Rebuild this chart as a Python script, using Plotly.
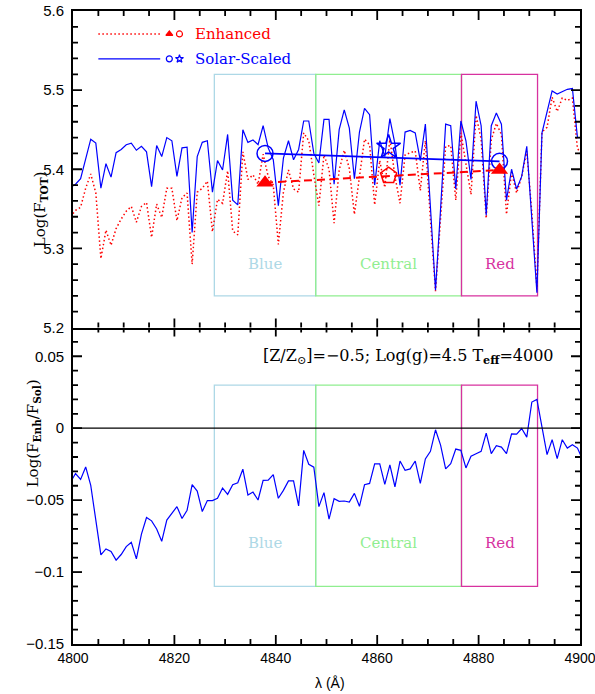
import numpy as np
import plotly.graph_objects as go

# Spectra sampled every 1 Å (one extra point beyond each edge of the window)
wavelength = np.arange(4799.5, 4901.0, 1.0)

# log total flux, solar-scaled model
solar = [5.377, 5.381, 5.388, 5.412, 5.438, 5.433, 5.376, 5.407, 5.390, 5.421,
         5.425, 5.431, 5.433, 5.424, 5.429, 5.422, 5.378, 5.430, 5.416, 5.440,
         5.436, 5.391, 5.427, 5.428, 5.320, 5.416, 5.434, 5.436, 5.371, 5.411,
         5.399, 5.444, 5.361, 5.355, 5.450, 5.434, 5.437, 5.431, 5.455, 5.427,
         5.412, 5.354, 5.414, 5.436, 5.412, 5.425, 5.461, 5.461, 5.420, 5.408,
         5.463, 5.463, 5.381, 5.450, 5.475, 5.452, 5.388, 5.447, 5.477, 5.469,
         5.380, 5.436, 5.416, 5.464, 5.432, 5.380, 5.447, 5.449, 5.446, 5.411,
         5.457, 5.352, 5.247, 5.350, 5.457, 5.455, 5.375, 5.461, 5.436, 5.387,
         5.486, 5.455, 5.342, 5.455, 5.471, 5.457, 5.361, 5.400, 5.375, 5.391,
         5.429, 5.337, 5.244, 5.446, 5.471, 5.499, 5.495, 5.498, 5.501, 5.502,
         5.440, 5.440]

# log total flux, alpha-enhanced model
enhanced = [5.340, 5.348, 5.352, 5.376, 5.394, 5.370, 5.287, 5.323, 5.304, 5.325,
            5.337, 5.347, 5.353, 5.333, 5.353, 5.358, 5.314, 5.356, 5.339, 5.376,
            5.376, 5.335, 5.364, 5.370, 5.280, 5.371, 5.376, 5.385, 5.321, 5.362,
            5.357, 5.398, 5.322, 5.317, 5.422, 5.387, 5.393, 5.381, 5.419, 5.391,
            5.380, 5.305, 5.371, 5.399, 5.375, 5.371, 5.446, 5.436, 5.393, 5.354,
            5.418, 5.400, 5.332, 5.399, 5.424, 5.401, 5.343, 5.393, 5.438, 5.431,
            5.355, 5.411, 5.377, 5.438, 5.391, 5.357, 5.418, 5.421, 5.423, 5.373,
            5.436, 5.336, 5.246, 5.338, 5.429, 5.430, 5.361, 5.446, 5.408, 5.368,
            5.468, 5.438, 5.338, 5.437, 5.458, 5.444, 5.343, 5.396, 5.370, 5.391,
            5.423, 5.345, 5.250, 5.447, 5.453, 5.491, 5.473, 5.490, 5.487, 5.490,
            5.426, 5.418]

# log(F_Enh / F_Sol)
log_ratio = [-0.0375, -0.0315, -0.0356, -0.0269, -0.0398, -0.0632, -0.0880, -0.0839, -0.0857, -0.0917,
             -0.0878, -0.0823, -0.0793, -0.0908, -0.0736, -0.0621, -0.0644, -0.0701, -0.0786, -0.0639,
             -0.0593, -0.0545, -0.0628, -0.0570, -0.0393, -0.0437, -0.0579, -0.0503, -0.0503, -0.0487,
             -0.0416, -0.0460, -0.0393, -0.0379, -0.0285, -0.0464, -0.0444, -0.0499, -0.0363, -0.0361,
             -0.0322, -0.0487, -0.0432, -0.0366, -0.0366, -0.0540, -0.0154, -0.0251, -0.0271, -0.0545,
             -0.0448, -0.0632, -0.0490, -0.0508, -0.0506, -0.0513, -0.0453, -0.0543, -0.0393, -0.0384,
             -0.0248, -0.0248, -0.0391, -0.0255, -0.0407, -0.0228, -0.0292, -0.0283, -0.0228, -0.0384,
             -0.0214, -0.0161, -0.0011, -0.0117, -0.0283, -0.0246, -0.0145, -0.0154, -0.0276, -0.0195,
             -0.0177, -0.0161, -0.0034, -0.0177, -0.0122, -0.0131, -0.0177, -0.0039, -0.0041, -0.0002,
             -0.0062, 0.0182, 0.0200, 0.0007, -0.0184, -0.0080, -0.0211, -0.0080, -0.0138, -0.0115,
             -0.0138, -0.0218]

# Lick H-beta bandpasses
band_names = ["Blue", "Central", "Red"]
band_lo = [4827.875, 4847.875, 4876.625]
band_hi = [4847.875, 4876.625, 4891.625]
band_colors = ["#add8e6", "#90ee90", "#d7329f"]

# pseudo-continuum points (centres of the side bands) and central-band values
cont_wave = [4837.875, 4884.125]
cont_solar = [5.420, 5.410]
cont_enhanced = [5.383, 5.399]
central_wave = [4862.25]
central_solar = [5.428]
central_enhanced = [5.392]

# axis tick labels
x_tickvals = [4800, 4820, 4840, 4860, 4880, 4900]
top_tickvals = [5.2, 5.3, 5.4, 5.5, 5.6]
bottom_tickvals = [-0.15, -0.1, -0.05, 0, 0.05]

X_RANGE = (4800, 4900)
TOP_RANGE = (5.2, 5.6)
BOTTOM_RANGE = (-0.15, 0.07)

SERIF = "DejaVu Serif"
SANS = "Liberation Sans"
RED = "#ff0000"
BLUE = "#0000ff"

W, H = 595, 694
M_L, M_R, M_T, M_B = 73, 15, 11, 50
PLOT_W = W - M_L - M_R
PANEL_H = (H - M_T - M_B) / 2
MAJOR_LEN, MINOR_LEN = 9, 5   # tick lengths in pixels
TICK_STYLE = dict(color="black", width=1.8)

fig = go.Figure()

# ---- upper panel: fluxes ----
fig.add_trace(go.Scatter(x=wavelength, y=enhanced, mode="lines",
                         line=dict(color=RED, width=1.5, dash="1.5px,2.5px"),
                         xaxis="x2", yaxis="y2", showlegend=False))
fig.add_trace(go.Scatter(x=wavelength, y=solar, mode="lines",
                         line=dict(color=BLUE, width=1.2),
                         xaxis="x2", yaxis="y2", showlegend=False))
fig.add_trace(go.Scatter(x=cont_wave, y=cont_enhanced, mode="lines",
                         line=dict(color=RED, width=2, dash="8px,5px"),
                         xaxis="x2", yaxis="y2", showlegend=False))
fig.add_trace(go.Scatter(x=cont_wave, y=cont_solar, mode="lines",
                         line=dict(color=BLUE, width=1.8),
                         xaxis="x2", yaxis="y2", showlegend=False))
fig.add_trace(go.Scatter(x=cont_wave, y=cont_solar, mode="markers",
                         marker=dict(symbol="circle-open", size=16, color=BLUE,
                                     line=dict(width=1.5, color=BLUE)),
                         xaxis="x2", yaxis="y2", showlegend=False))
fig.add_trace(go.Scatter(x=cont_wave, y=cont_enhanced, mode="markers",
                         marker=dict(symbol="triangle-up", size=15, color=RED),
                         xaxis="x2", yaxis="y2", showlegend=False))
fig.add_trace(go.Scatter(x=central_wave, y=central_solar, mode="markers",
                         marker=dict(symbol="star-open", size=18, color=BLUE,
                                     line=dict(width=1.5, color=BLUE)),
                         xaxis="x2", yaxis="y2", showlegend=False))
fig.add_trace(go.Scatter(x=central_wave, y=central_enhanced, mode="markers",
                         marker=dict(symbol="pentagon-open", size=17, color=RED,
                                     line=dict(width=1.5, color=RED)),
                         xaxis="x2", yaxis="y2", showlegend=False))

# hand-drawn key in the upper-left corner
KEY_LINE = [4805.0, 4817.2]
KEY_SYM1, KEY_SYM2, KEY_TEXT = 4819.0, 4821.0, 4823.7
KEY_ROWS = [
    dict(y=5.571, label="Enhanced", color=RED, dash="1.5px,2.5px", width=1.5,
         sym1="triangle-up", sym2="circle-open"),
    dict(y=5.5395, label="Solar-Scaled", color=BLUE, dash="solid", width=1.2,
         sym1="circle-open", sym2="star-open"),
]
for row in KEY_ROWS:
    fig.add_trace(go.Scatter(x=KEY_LINE, y=[row["y"]] * 2, mode="lines",
                             line=dict(color=row["color"], width=row["width"], dash=row["dash"]),
                             xaxis="x2", yaxis="y2", showlegend=False))
    fig.add_trace(go.Scatter(x=[KEY_SYM1, KEY_SYM2], y=[row["y"]] * 2, mode="markers",
                             marker=dict(symbol=[row["sym1"], row["sym2"]], size=6,
                                         color=row["color"],
                                         line=dict(width=1.2, color=row["color"])),
                             xaxis="x2", yaxis="y2", showlegend=False))

# ---- lower panel: flux ratio ----
fig.add_trace(go.Scatter(x=wavelength, y=log_ratio, mode="lines",
                         line=dict(color=BLUE, width=1.2),
                         xaxis="x", yaxis="y", showlegend=False))


# ---- inward tick marks on all four sides of each panel (as line shapes) ----
def is_multiple(v, step):
    q = v / step
    return abs(q - round(q)) < 1e-6


def frame_ticks(xref, yref, y_range, y_major, y_minor, x_major=20, x_minor=5):
    x_per_px = (X_RANGE[1] - X_RANGE[0]) / PLOT_W
    y_per_px = (y_range[1] - y_range[0]) / PANEL_H
    out = []
    n_x = int(round((X_RANGE[1] - X_RANGE[0]) / x_minor))
    for i in range(1, n_x):
        t = float(X_RANGE[0] + i * x_minor)
        ln = (MAJOR_LEN if is_multiple(t - X_RANGE[0], x_major) else MINOR_LEN) * y_per_px
        out.append(dict(type="line", xref=xref, yref=yref, x0=t, x1=t,
                        y0=y_range[0], y1=y_range[0] + ln, line=dict(TICK_STYLE), layer="above"))
        out.append(dict(type="line", xref=xref, yref=yref, x0=t, x1=t,
                        y0=y_range[1], y1=y_range[1] - ln, line=dict(TICK_STYLE), layer="above"))
    n_y = int(round((y_range[1] - y_range[0]) / y_minor))
    first = float(np.ceil(round(y_range[0] / y_minor, 6)) * y_minor)
    for i in range(0, n_y + 1):
        t = round(first + i * y_minor, 6)
        if t <= y_range[0] + y_minor / 2 or t >= y_range[1] - y_minor / 2:
            continue
        ln = (MAJOR_LEN if is_multiple(t, y_major) else MINOR_LEN) * x_per_px
        out.append(dict(type="line", xref=xref, yref=yref, x0=X_RANGE[0], x1=X_RANGE[0] + ln,
                        y0=t, y1=t, line=dict(TICK_STYLE), layer="above"))
        out.append(dict(type="line", xref=xref, yref=yref, x0=X_RANGE[1], x1=X_RANGE[1] - ln,
                        y0=t, y1=t, line=dict(TICK_STYLE), layer="above"))
    return out


shapes = []
annotations = []
for name, lo, hi, col in zip(band_names, band_lo, band_hi, band_colors):
    shapes.append(dict(type="rect", xref="x2", yref="y2", x0=lo, x1=hi, y0=5.24, y1=5.52,
                       line=dict(color=col, width=1.3), layer="below"))
    shapes.append(dict(type="rect", xref="x", yref="y", x0=lo, x1=hi, y0=-0.11, y1=0.03,
                       line=dict(color=col, width=1.3), layer="below"))
    annotations.append(dict(x=(lo + hi) / 2, y=5.28, xref="x2", yref="y2", text=name,
                            showarrow=False, font=dict(family=SERIF, size=15, color=col)))
    annotations.append(dict(x=(lo + hi) / 2, y=-0.08, xref="x", yref="y", text=name,
                            showarrow=False, font=dict(family=SERIF, size=15, color=col)))

shapes.append(dict(type="line", xref="x", yref="y", x0=X_RANGE[0], x1=X_RANGE[1], y0=0, y1=0,
                   line=dict(color="black", width=1.2)))
shapes += frame_ticks("x2", "y2", TOP_RANGE, 0.1, 0.02)
shapes += frame_ticks("x", "y", BOTTOM_RANGE, 0.05, 0.01)

for row in KEY_ROWS:
    annotations.append(dict(x=KEY_TEXT, y=row["y"], xref="x2", yref="y2", text=row["label"],
                            xanchor="left", showarrow=False,
                            font=dict(family=SERIF, size=15, color=row["color"])))

annotations.append(dict(x=4866.1, y=0.05, xref="x", yref="y",
                        text="[Z/Z<sub>⊙</sub>]=\u22120.5; Log(g)=4.5 T<sub><b>eff</b></sub>=4000",
                        showarrow=False, font=dict(family=SERIF, size=16, color="black")))
annotations.append(dict(x=-0.088, y=0.75, xref="paper", yref="paper", textangle=-90,
                        text="Log(F<sub><b>TOT</b></sub>)", showarrow=False,
                        font=dict(family=SERIF, size=15, color="black")))
annotations.append(dict(x=-0.1, y=0.244, xref="paper", yref="paper", textangle=-90,
                        text="Log(F<sub><b>Enh</b></sub>/F<sub><b>Sol</b></sub>)", showarrow=False,
                        font=dict(family=SERIF, size=15, color="black")))
annotations.append(dict(x=0.507, y=-0.061, xref="paper", yref="paper",
                        text="\u03bb (Å)", showarrow=False, yanchor="middle",
                        font=dict(family=SANS, size=14, color="black")))

axis_common = dict(showline=True, linewidth=1.8, linecolor="black", automargin=False,
                   ticks="", showgrid=False, zeroline=False, tickmode="array",
                   ticklabeloverflow="allow")

fig.update_layout(
    width=W, height=H,
    margin=dict(l=M_L, r=M_R, t=M_T, b=M_B, autoexpand=False),
    paper_bgcolor="white", plot_bgcolor="white",
    xaxis=dict(domain=[0, 1], anchor="y", range=list(X_RANGE), tickvals=x_tickvals,
               mirror=False, tickfont=dict(family=SANS, size=14, color="black"),
               **axis_common),
    xaxis2=dict(domain=[0, 1], anchor="y2", range=list(X_RANGE), tickvals=x_tickvals,
                matches="x", showticklabels=False, mirror=True, **axis_common),
    yaxis=dict(domain=[0, 0.5], anchor="x", range=list(BOTTOM_RANGE), tickvals=bottom_tickvals,
               mirror=True, ticklabelstandoff=4,
               tickfont=dict(family=SANS, size=15, color="black"), **axis_common),
    yaxis2=dict(domain=[0.5, 1], anchor="x2", range=list(TOP_RANGE), tickvals=top_tickvals,
                mirror=True, ticklabelstandoff=4,
                tickfont=dict(family=SANS, size=15, color="black"), **axis_common),
    shapes=shapes,
    annotations=annotations,
)

fig.write_html("out.html")
